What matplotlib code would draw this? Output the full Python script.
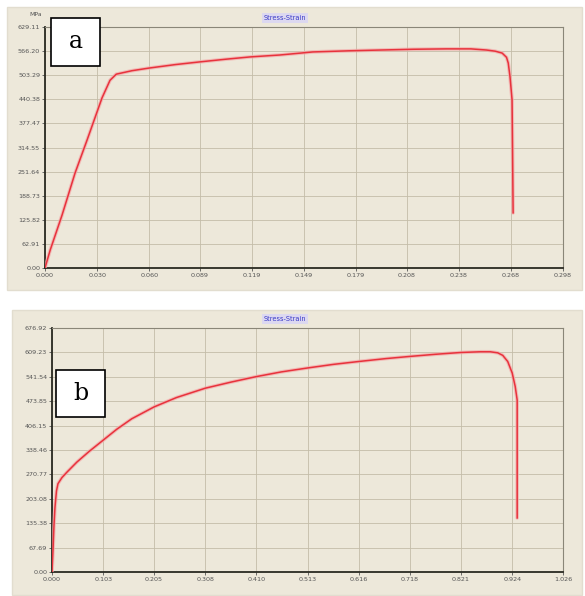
import numpy as np
import matplotlib
matplotlib.use("Agg")
import matplotlib.pyplot as plt
from matplotlib.patches import Rectangle

# ---- Specimen a : engineering stress-strain ----
strain_a = [0.0, 0.003, 0.0098, 0.0173, 0.0242, 0.0328, 0.0374, 0.041, 0.050,
            0.060, 0.075, 0.089, 0.104, 0.118, 0.135, 0.147, 0.154, 0.175,
            0.193, 0.212, 0.231, 0.245, 0.254, 0.259, 0.263, 0.2655, 0.2665,
            0.2675, 0.2687, 0.2690, 0.2693]
stress_a = [0.0, 47, 138, 248, 334, 444, 490, 506, 515,
            522, 531, 538, 545, 551, 556, 561, 564, 567,
            569, 571, 572, 572, 569, 566, 561, 550, 535,
            500, 439, 300, 144]
ticks_x_a = [0.000, 0.030, 0.060, 0.089, 0.119, 0.149, 0.179, 0.208, 0.238, 0.268, 0.298]
ticks_y_a = [0.00, 62.91, 125.82, 188.73, 251.64, 314.55, 377.47, 440.38, 503.29, 566.20, 629.11]

# ---- Specimen b : engineering stress-strain ----
strain_b = [0.0, 0.002, 0.004, 0.006, 0.009, 0.012, 0.020, 0.030, 0.050, 0.075,
            0.103, 0.130, 0.160, 0.205, 0.250, 0.308, 0.360, 0.410, 0.460,
            0.513, 0.565, 0.616, 0.670, 0.718, 0.770, 0.821, 0.860, 0.880,
            0.895, 0.905, 0.915, 0.924, 0.930, 0.934, 0.934]
stress_b = [0.0, 60, 130, 180, 225, 245, 262, 277, 305, 335,
            366, 396, 425, 458, 484, 510, 527, 542, 555,
            566, 576, 584, 592, 598, 604, 609, 611, 611,
            608, 601, 584, 552, 515, 477, 150]
ticks_x_b = [0.000, 0.103, 0.205, 0.308, 0.410, 0.513, 0.616, 0.718, 0.821, 0.924, 1.026]
ticks_y_b = [0.00, 67.69, 135.38, 203.08, 270.77, 338.46, 406.15, 473.85, 541.54, 609.23, 676.92]

W, H = 585, 596
BG = "#EDE8DA"
GRID = "#C4BCA8"
CURVE = "#E8323C"

fig = plt.figure(figsize=(W / 100, H / 100), dpi=100)
fig.patch.set_facecolor("white")


def px_rect(x0, y0, x1, y1):
    return [x0 / W, 1 - y1 / H, (x1 - x0) / W, (y1 - y0) / H]


def panel(box, ax_box, xs, ys, xt, yt, letter, letter_box, title_y, unit_label):
    x0, y0, x1, y1 = box
    fig.patches.append(Rectangle((x0 / W, 1 - y1 / H), (x1 - x0) / W, (y1 - y0) / H,
                                 transform=fig.transFigure, facecolor=BG,
                                 edgecolor="#E2DDCF", lw=1.0, zorder=-10))
    ax = fig.add_axes(px_rect(*ax_box))
    ax.set_facecolor(BG)
    ax.set_xlim(xt[0], xt[-1])
    ax.set_ylim(yt[0], yt[-1])
    ax.set_xticks(xt)
    ax.set_yticks(yt)
    ax.set_xticklabels([f"{v:.3f}" for v in xt])
    ax.set_yticklabels([f"{v:.2f}" for v in yt])
    ax.tick_params(labelsize=4.6, colors="#555555", length=2, width=0.6, pad=1.5)
    ax.grid(True, color=GRID, lw=0.6, ls="-")
    for s in ("left", "bottom"):
        ax.spines[s].set_color("#2A2A22")
        ax.spines[s].set_linewidth(1.3)
    for s in ("right", "top"):
        ax.spines[s].set_color("#8A8678")
        ax.spines[s].set_linewidth(0.8)
    ax.plot(xs, ys, color="#F4A8A8", lw=2.6, alpha=0.7, solid_capstyle="round", zorder=3)
    ax.plot(xs, ys, color=CURVE, lw=1.1, zorder=4)
    # letter label box
    lx0, ly0, lx1, ly1 = letter_box
    fig.patches.append(Rectangle((lx0 / W, 1 - ly1 / H), (lx1 - lx0) / W, (ly1 - ly0) / H,
                                 transform=fig.transFigure, facecolor="white",
                                 edgecolor="black", lw=1.2, zorder=5))
    fig.text((lx0 + lx1) / 2 / W, 1 - (ly0 + ly1) / 2 / H, letter,
             family="DejaVu Serif", fontsize=17, ha="center", va="center", zorder=6)
    fig.text(285 / W, 1 - title_y / H, "Stress-Strain", fontsize=4.8, color="#3A3AC8",
             ha="center", va="center",
             bbox=dict(boxstyle="square,pad=0.25", facecolor="#DCD8F0", edgecolor="none"))
    if unit_label:
        fig.text(36 / W, 1 - 14 / H, unit_label, fontsize=4.5, color="#555555",
                 ha="center", va="center")
    return ax


panel((7, 7, 582, 290), (45, 27, 563, 268), strain_a, stress_a,
      ticks_x_a, ticks_y_a, "a", (51, 18, 100, 66), 18, "MPa")
panel((12, 310, 582, 595), (52, 328, 563, 572), strain_b, stress_b,
      ticks_x_b, ticks_y_b, "b", (56, 370, 105, 417), 319, None)

fig.savefig("out.png", dpi=100, facecolor="white")
